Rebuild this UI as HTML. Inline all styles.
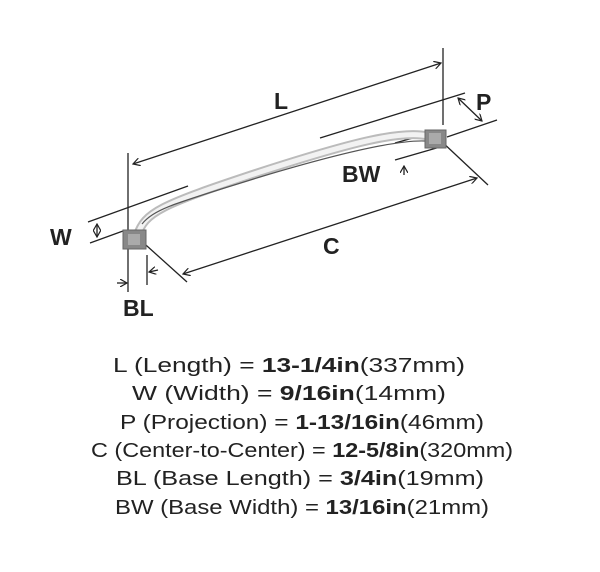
<!DOCTYPE html>
<html><head><meta charset="utf-8"><style>
html,body{margin:0;padding:0;background:#fff;}
svg{display:block;}
text{font-family:"Liberation Sans",sans-serif;fill:#222;}
</style></head><body>
<svg width="600" height="572" viewBox="0 0 600 572" xmlns="http://www.w3.org/2000/svg">
<defs>
<marker id="a" markerWidth="8" markerHeight="8" refX="7" refY="4" orient="auto-start-reverse" markerUnits="userSpaceOnUse"><path d="M0,0 L7,4 L0,8" fill="none" stroke="#222" stroke-width="1.2"/></marker>
</defs>
<g stroke="#222" stroke-width="1.3" fill="none">
<line x1="128" y1="153" x2="128" y2="292"/>
<line x1="443" y1="48" x2="443" y2="125"/>
<line x1="320" y1="138" x2="465" y2="93"/>
<line x1="447" y1="137" x2="497" y2="120"/>
<line x1="395" y1="160" x2="440" y2="147"/>
<line x1="395" y1="143" x2="420" y2="136"/>
<line x1="440" y1="140" x2="488" y2="185"/>
<line x1="137" y1="237" x2="187" y2="282"/>
<line x1="88" y1="222" x2="188" y2="186"/>
<line x1="90" y1="243" x2="123" y2="231"/>
<line x1="147" y1="255" x2="147" y2="285"/>
<line x1="133" y1="164" x2="441" y2="63" marker-start="url(#a)" marker-end="url(#a)"/>
<line x1="183" y1="274" x2="477" y2="178" marker-start="url(#a)" marker-end="url(#a)"/>
<line x1="458" y1="98" x2="482" y2="121" marker-start="url(#a)" marker-end="url(#a)"/>
<line x1="97" y1="224" x2="97" y2="237" marker-start="url(#a)" marker-end="url(#a)"/>
<line x1="117" y1="283" x2="127" y2="283" marker-end="url(#a)"/>
<line x1="158" y1="270" x2="149" y2="272" marker-end="url(#a)"/>
<line x1="404" y1="175" x2="404" y2="166" marker-end="url(#a)"/>
</g>
<path d="M137,236 C145,212 160,205 260,172 C350,143 400,130 428,136" fill="none" stroke="#bbb" stroke-width="9" stroke-linecap="round"/>
<path d="M137,236 C145,212 160,205 260,172 C350,143 400,130 428,136" fill="none" stroke="#f2f2f2" stroke-width="5" stroke-linecap="round"/>
<path d="M142,224 C155,208 180,202 260,177 C350,150 400,140 425,141" fill="none" stroke="#555" stroke-width="1.2"/>
<rect x="123" y="230" width="23" height="19" fill="#888" stroke="#666"/>
<rect x="128" y="234" width="12" height="11" fill="#aaa"/>
<rect x="425" y="130" width="21" height="18" fill="#888" stroke="#666"/>
<rect x="429" y="133" width="12" height="11" fill="#aaa"/>
<g font-size="23" font-weight="bold">
<text x="274" y="109">L</text>
<text x="476" y="110">P</text>
<text x="342" y="182">BW</text>
<text x="323" y="254">C</text>
<text x="50" y="245">W</text>
<text x="123" y="316">BL</text>
</g>
<g font-size="20" text-anchor="middle">
<text x="289" y="372" textLength="352" lengthAdjust="spacingAndGlyphs">L (Length) = <tspan font-weight="bold">13-1/4in</tspan>(337mm)</text>
<text x="289" y="400" textLength="314" lengthAdjust="spacingAndGlyphs">W (Width) = <tspan font-weight="bold">9/16in</tspan>(14mm)</text>
<text x="302" y="429" textLength="364" lengthAdjust="spacingAndGlyphs">P (Projection) = <tspan font-weight="bold">1-13/16in</tspan>(46mm)</text>
<text x="302" y="457" textLength="422" lengthAdjust="spacingAndGlyphs">C (Center-to-Center) = <tspan font-weight="bold">12-5/8in</tspan>(320mm)</text>
<text x="300" y="485" textLength="368" lengthAdjust="spacingAndGlyphs">BL (Base Length) = <tspan font-weight="bold">3/4in</tspan>(19mm)</text>
<text x="302" y="514" textLength="374" lengthAdjust="spacingAndGlyphs">BW (Base Width) = <tspan font-weight="bold">13/16in</tspan>(21mm)</text>
</g>
</svg>
</body></html>
